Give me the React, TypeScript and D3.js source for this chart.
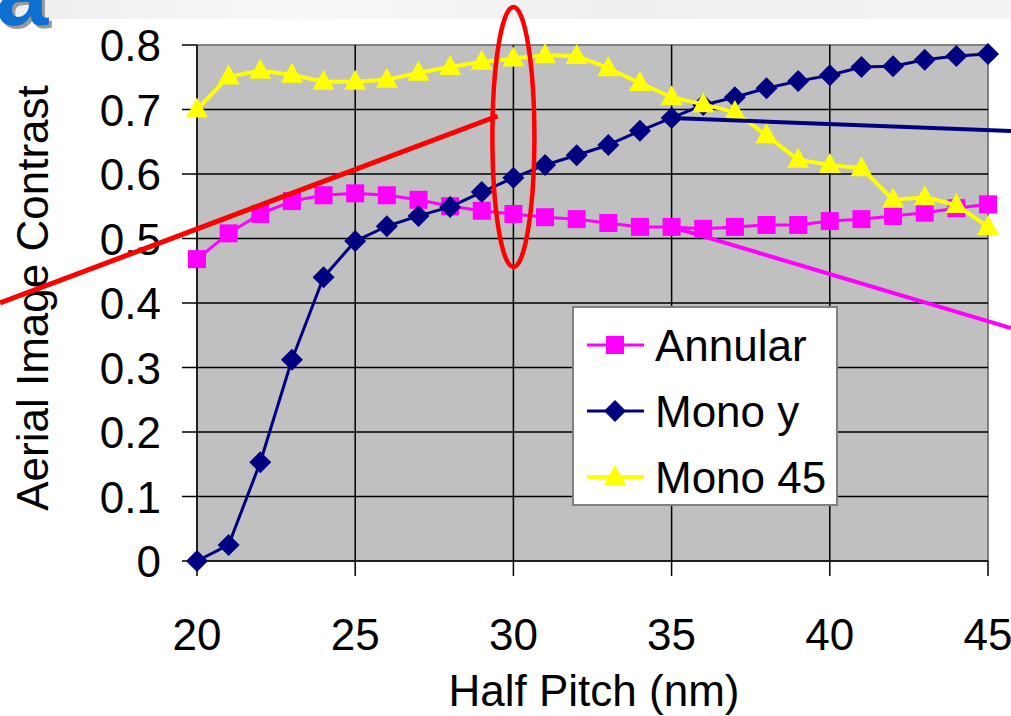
import React from "react";
import * as d3 from "d3";

const halfPitch = d3.range(20, 46);
const annular = [0.468, 0.508, 0.538, 0.558, 0.567, 0.57, 0.567, 0.56, 0.55, 0.543, 0.538, 0.533, 0.53, 0.524, 0.518, 0.518, 0.515, 0.518, 0.521, 0.521, 0.527, 0.53, 0.535, 0.54, 0.547, 0.553];
const monoY = [0, 0.025, 0.153, 0.312, 0.44, 0.496, 0.519, 0.535, 0.549, 0.572, 0.594, 0.614, 0.629, 0.645, 0.667, 0.687, 0.707, 0.719, 0.733, 0.744, 0.753, 0.766, 0.767, 0.777, 0.783, 0.786];
const mono45 = [0.7, 0.751, 0.76, 0.754, 0.743, 0.743, 0.746, 0.757, 0.766, 0.774, 0.779, 0.784, 0.783, 0.764, 0.741, 0.719, 0.708, 0.696, 0.66, 0.622, 0.614, 0.609, 0.56, 0.564, 0.552, 0.518];
const xTicks = [20, 25, 30, 35, 40, 45];
const yTicks = [0, 0.1, 0.2, 0.3, 0.4, 0.5, 0.6, 0.7, 0.8];

const W = 1011;
const H = 716;
const FONT = "'Liberation Sans', Arial, sans-serif";

const series = [
  { name: "Annular", values: annular, color: "#ff00ff", marker: "square", lw: 3 },
  { name: "Mono y", values: monoY, color: "#000080", marker: "diamond", lw: 3 },
  { name: "Mono 45", values: mono45, color: "#ffff00", marker: "triangle", lw: 4 },
];

const Marker = ({ type, x, y, color }: { type: string; x: number; y: number; color: string }) => {
  if (type === "square") return <rect x={x - 9} y={y - 9} width={18} height={18} fill={color} />;
  if (type === "diamond")
    return <path d={`M${x},${y - 11}L${x + 11},${y}L${x},${y + 11}L${x - 11},${y}Z`} fill={color} />;
  return <path d={`M${x},${y - 12}L${x + 11},${y + 8}L${x - 11},${y + 8}Z`} fill={color} />;
};

const App = () => {
  const x = d3.scaleLinear().domain([20, 45]).range([197, 988]);
  const y = d3.scaleLinear().domain([0, 0.8]).range([561, 45]);
  const line = d3.line<number>().x((_, i) => x(halfPitch[i])).y((d) => y(d));

  return (
    <div style={{ position: "absolute", left: 0, top: 0 }}>
      <svg width={W} height={H} style={{ display: "block", fontFamily: FONT }}>
        <defs>
          <linearGradient id="band" x1="0" x2="1" y1="0" y2="0">
            <stop offset="0" stopColor="#ededed" />
            <stop offset="0.3" stopColor="#f8f8f8" />
            <stop offset="0.6" stopColor="#efefef" />
            <stop offset="1" stopColor="#f3f3f3" />
          </linearGradient>
          <filter id="shadow" x="-20%" y="-20%" width="140%" height="140%">
            <feDropShadow dx={3} dy={3} stdDeviation={0.5} floodColor="#9a9a9a" floodOpacity={1} />
          </filter>
        </defs>
        <rect width={W} height={H} fill="#fff" />
        <rect width={W} height={19} fill="url(#band)" />
        {/* panel label, cut at the top */}
        <text x={-4} y={25} fontSize={94} fontWeight="bold" fill="#0a6fd0" style={{ fontFamily: "'Liberation Sans', Arial, sans-serif" }} filter="url(#shadow)">a</text>

        {/* plot area */}
        <rect x={197} y={45} width={791} height={516} fill="#c0c0c0" stroke="#808080" strokeWidth={2} />
        {yTicks.slice(1, -1).map((t) => (
          <line key={t} x1={197} x2={988} y1={y(t)} y2={y(t)} stroke="#000" strokeWidth={1.5} />
        ))}
        {xTicks.slice(1, -1).map((t) => (
          <line key={t} x1={x(t)} x2={x(t)} y1={45} y2={561} stroke="#000" strokeWidth={1.5} />
        ))}
        {/* axes */}
        <line x1={197} x2={197} y1={45} y2={561} stroke="#000" strokeWidth={1.5} />
        <line x1={197} x2={988} y1={561} y2={561} stroke="#000" strokeWidth={1.5} />
        {yTicks.map((t) => (
          <g key={t}>
            <line x1={182} x2={197} y1={y(t)} y2={y(t)} stroke="#000" strokeWidth={1.5} />
            <text x={161} y={y(t) + 16} fontSize={44} textAnchor="end">{t === 0 ? "0" : d3.format(".1f")(t)}</text>
          </g>
        ))}
        {xTicks.map((t) => (
          <g key={t}>
            <line x1={x(t)} x2={x(t)} y1={561} y2={576} stroke="#000" strokeWidth={1.5} />
            <text x={x(t)} y={650} fontSize={44} textAnchor="middle">{t}</text>
          </g>
        ))}
        <text x={594} y={706} fontSize={44} textAnchor="middle">Half Pitch (nm)</text>
        <text transform="translate(48,298) rotate(-90)" fontSize={44} textAnchor="middle">Aerial Image Contrast</text>

        {/* series */}
        {series.map((s) => (
          <g key={s.name}>
            <path d={line(s.values) || ""} fill="none" stroke={s.color} strokeWidth={s.lw} strokeLinejoin="round" />
            {s.values.map((v, i) => (
              <Marker key={i} type={s.marker} x={x(halfPitch[i])} y={y(v)} color={s.color} />
            ))}
          </g>
        ))}

        {/* annotations */}
        <line x1={0} y1={303} x2={x(29.5)} y2={116} stroke="#ff0000" strokeWidth={5} />
        <ellipse cx={x(30)} cy={137} rx={21} ry={130} fill="none" stroke="#ff0000" strokeWidth={4.5} />
        <line x1={x(35)} y1={y(monoY[15])} x2={1011} y2={131} stroke="#000080" strokeWidth={4} />
        <line x1={x(35)} y1={y(annular[15])} x2={1011} y2={328} stroke="#ff00ff" strokeWidth={4} />

        {/* legend */}
        <rect x={573} y={307} width={264} height={198} fill="#fff" stroke="#808080" strokeWidth={2} />
        {series.map((s, i) => {
          const ly = 345 + i * 66;
          return (
            <g key={s.name}>
              <line x1={587} x2={644} y1={ly} y2={ly} stroke={s.color} strokeWidth={s.lw} />
              <Marker type={s.marker} x={615} y={ly} color={s.color} />
              <text x={655} y={ly + 16} fontSize={44}>{s.name}</text>
            </g>
          );
        })}
      </svg>
    </div>
  );
};

export default App;
